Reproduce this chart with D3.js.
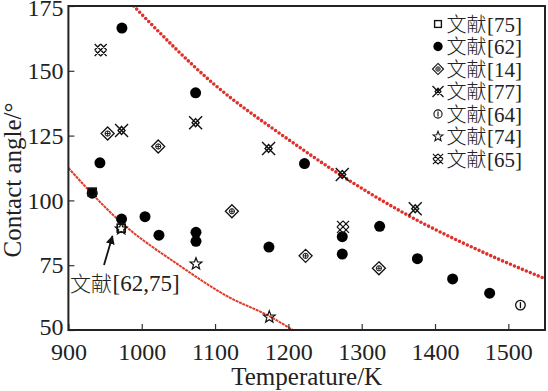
<!DOCTYPE html>
<html><head><meta charset="utf-8">
<script src="https://cdn.jsdelivr.net/npm/d3@7"></script>
<style>body{margin:0;background:#fff}svg{display:block}</style>
</head><body><svg id="c" width="548" height="391"></svg>
<script>
// ---- data (Temperature K, Contact angle °) ----
const ref75 = [[932.5, 103.2], [972, 89.3]];
const ref62 = [[932.5,102.8],[943,114.5],[973,166.5],[972.5,92.8],[1004.5,93.7],[1023.5,86.6],
  [1073.5,141.5],[1074,87.7],[1074,84.2],[1173.5,82],[1222,114.2],[1273.5,86],[1273.5,79.3],
  [1324.5,90],[1376,77.5],[1424,69.7],[1474.5,64.2]];
const ref14 = [[953.5,125.8],[1022.5,120.8],[1123,95.8],[1223.5,78.6],[1323.5,73.8]];
const ref77 = [[972.5,127],[1073.5,130],[1173,120],[1273.5,110],[1373,96.8]];
const ref64 = [[1516.5,59.6]];
const ref74 = [[972,89],[1074,75.5],[1174,55]];
const ref65 = [[944,158],[1274.5,89.8]];
const upperCurve = [[989,175],[1100,144.5],[1200,123.5],[1274,109.3],[1352,96],[1483,77.8],[1550,69.8]];
const lowerCurve = [[900,112.5],[972,91.5],[1052,74.8],[1120,62.5],[1173,55.5],[1206,50]];
const xTicks = [900,1000,1100,1200,1300,1400,1500];
const yTicks = [50,75,100,125,150,175];
const legendCJK = "文献";
const legendRefs = ["[75]","[62]","[14]","[77]","[64]","[74]","[65]"];
const annotationRefs = "[62,75]";

const SERIF = "Liberation Serif";
const CJK = "Noto Sans CJK SC";
const svg = d3.select("#c");
const L=68.4, R=545, T=6, B=330;
const x = d3.scaleLinear().domain([900,1550]).range([L,R]);
const y = d3.scaleLinear().domain([50,175]).range([B,T]);

// marker shapes
const sym = {
  s75: g => g.append("rect").attr("x",-4).attr("y",-4).attr("width",8).attr("height",8).attr("fill","none").attr("stroke","#111").attr("stroke-width",1.6),
  s62: g => g.append("circle").attr("r",5.5).attr("fill","#000"),
  s14: g => { g.append("path").attr("d","M0,-6.5L6.5,0L0,6.5L-6.5,0Z").attr("fill","none").attr("stroke","#111").attr("stroke-width",1.3);
              g.append("circle").attr("r",2.6).attr("fill","none").attr("stroke","#111").attr("stroke-width",1);
              g.append("path").attr("d","M0,-2.6V2.6M-2.6,0H2.6").attr("stroke","#111").attr("stroke-width",0.9); },
  s77: g => { g.append("path").attr("d","M-6.5,-6.5L6.5,6.5M-6.5,6.5L6.5,-6.5M0,-4L3.5,0L0,4L-3.5,0Z").attr("fill","none").attr("stroke","#111").attr("stroke-width",1.4); },
  s64: g => { g.append("circle").attr("r",4.8).attr("fill","none").attr("stroke","#111").attr("stroke-width",1.3);
              g.append("path").attr("d","M0,-3V3").attr("stroke","#111").attr("stroke-width",1.3); },
  s74: g => { const pts=[]; for(let i=0;i<10;i++){const r=i%2?2.6:6.2, a=-Math.PI/2+i*Math.PI/5; pts.push([r*Math.cos(a),r*Math.sin(a)]);}
              g.append("path").attr("d","M"+pts.map(p=>p.join(",")).join("L")+"Z").attr("fill","none").attr("stroke","#111").attr("stroke-width",1.2); },
  s65: g => { g.append("path").attr("d","M-6,-6L6,6M-6,6L6,-6M-6,0L0,-6M0,6L6,0M-6,0L0,6M0,-6L6,0").attr("fill","none").attr("stroke","#111").attr("stroke-width",1.3); }
};

// clip
svg.append("defs").append("clipPath").attr("id","clip").append("rect").attr("x",L).attr("y",T).attr("width",R-L).attr("height",B-T);

// curves
const line = d3.line().x(d=>x(d[0])).y(d=>y(d[1])).curve(d3.curveMonotoneX);
svg.append("path").datum(upperCurve).attr("d",line).attr("clip-path","url(#clip)")
  .attr("fill","none").attr("stroke","#e0302a").attr("stroke-width",3.6).attr("stroke-linecap","round").attr("stroke-dasharray","0 4.3");
svg.append("path").datum(lowerCurve).attr("d",line).attr("clip-path","url(#clip)")
  .attr("fill","none").attr("stroke","#e03c2c").attr("stroke-width",2).attr("stroke-dasharray","3 0.7");

// points
const series = [["s62",ref62],["s75",ref75],["s14",ref14],["s77",ref77],["s64",ref64],["s74",ref74],["s65",ref65]];
series.forEach(([k,data])=>{
  data.forEach(d=>{ const g=svg.append("g").attr("transform",`translate(${x(d[0])},${y(d[1])})`); sym[k](g); });
});

// axes
const xa = svg.append("g").attr("transform",`translate(0,${B})`)
  .call(d3.axisBottom(x).tickValues(xTicks).tickSize(-6).tickPadding(13).tickFormat(d3.format("d")));
const ya = svg.append("g").attr("transform",`translate(${L},0)`)
  .call(d3.axisLeft(y).tickValues(yTicks).tickSize(-6).tickPadding(5).tickFormat(d3.format("d")));
[xa,ya].forEach(a=>{ a.select(".domain").remove();
  a.selectAll(".tick line").attr("stroke","#333").attr("stroke-width",1.2);
  a.selectAll(".tick text").attr("font-size",24).attr("font-family",SERIF).attr("fill","#222"); });
ya.selectAll(".tick text").filter(d=>d===50).attr("dy","0.2em");
ya.selectAll(".tick text").filter(d=>d===175).attr("dy","0.4em");

// frame
svg.append("rect").attr("x",L).attr("y",T).attr("width",R-L).attr("height",B-T)
  .attr("fill","none").attr("stroke","#222").attr("stroke-width",2);

// axis titles
svg.append("text").attr("x",(L+R)/2).attr("y",385).attr("text-anchor","middle").attr("font-family",SERIF).attr("font-size",25).attr("fill","#222").text("Temperature/K");
svg.append("text").attr("transform","translate(21,180) rotate(-90)").attr("text-anchor","middle").attr("font-family",SERIF).attr("font-size",25).attr("fill","#222").text("Contact angle/°");

// two-part label: CJK part + serif part as separate text elements
function label(px, py, cjkSize, latSize, latText){
  const t1 = svg.append("text").attr("x",px).attr("y",py).attr("font-family",CJK).attr("font-weight",300)
    .attr("font-size",cjkSize).attr("fill","#222").text(legendCJK);
  const w = t1.node().getComputedTextLength();
  svg.append("text").attr("x",px+w+0.5).attr("y",py).attr("font-family",SERIF)
    .attr("font-size",latSize).attr("fill","#222").text(latText);
}

// legend
const keys = ["s75","s62","s14","s77","s64","s74","s65"];
legendRefs.forEach((lab,i)=>{
  const yy = 24 + i*22.5;
  const g = svg.append("g").attr("transform",`translate(438,${yy}) scale(0.85)`);
  sym[keys[i]](g);
  label(446.5, yy+7.5, 20, 21, lab);
});

// annotation
label(70, 291, 21, 23, annotationRefs);
svg.append("defs").append("marker").attr("id","ah").attr("viewBox","0 0 10 10").attr("refX",9).attr("refY",5)
  .attr("markerWidth",5).attr("markerHeight",5).attr("orient","auto")
  .append("path").attr("d","M0,0L10,5L0,10Z").attr("fill","#111");
svg.append("line").attr("x1",104).attr("y1",265).attr("x2",112.5).attr("y2",236)
  .attr("stroke","#111").attr("stroke-width",1.8).attr("marker-end","url(#ah)");
</script></body></html>
